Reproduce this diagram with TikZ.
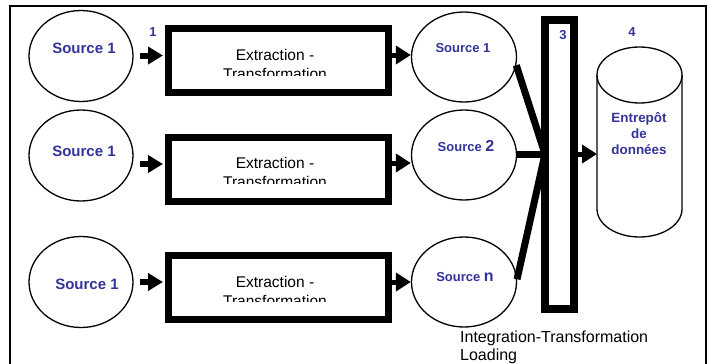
\documentclass[tikz,border=0pt]{standalone}
\usepackage{fontspec}
\setmainfont{Liberation Sans}
\usetikzlibrary{arrows.meta,shapes.geometric}
\definecolor{tblue}{RGB}{51,51,153}
\begin{document}
\begin{tikzpicture}[x=1pt,y=-1pt,
  src/.style={ellipse,draw,line width=1.3pt,minimum width=104pt,minimum height=91pt,inner sep=0pt},
  etbox/.style={rectangle,draw,line width=7pt,minimum width=220pt,minimum height=64pt,inner sep=0pt},
  lbl/.style={text=tblue,font=\bfseries\fontsize{15}{18}\selectfont,inner sep=0pt},
  rlbl/.style={text=tblue,font=\bfseries\fontsize{13}{16}\selectfont,inner sep=0pt},
  numlbl/.style={text=tblue,font=\bfseries\fontsize{13}{16}\selectfont,inner sep=0pt},
  ettext/.style={font=\fontsize{15.5}{19}\selectfont,align=center,inner sep=0pt,anchor=north},
  fat/.style={line width=6pt,-{Triangle[length=15pt,width=17pt]}},
  thinfat/.style={line width=5pt,-{Triangle[length=15pt,width=18pt]}},
  link/.style={line width=7pt},
]
\useasboundingbox (0,0) rectangle (712,364);
% outer frame
\draw[line width=1.5pt] (10,370) -- (10,6) -- (706,6) -- (706,370);

% left sources
\node[src] (L1) at (81,56) {};
\node[src] (L2) at (81,155.5) {};
\node[src] (L3) at (81,282) {};
\node[lbl] at (84,48) {Source 1};
\node[lbl] at (84,151) {Source 1};
\node[lbl] at (87,284) {Source 1};

% extraction boxes
\node[etbox] (E1) at (278.5,60.5) {};
\node[etbox] (E2) at (278.5,169) {};
\node[etbox] (E3) at (278.5,287) {};
\begin{scope}
\clip (172,30) rectangle (385,75);
\node[ettext] at (275,49) {Extraction -\\Transformation};
\end{scope}
\begin{scope}
\clip (172,140) rectangle (385,183);
\node[ettext] at (275,157) {Extraction -\\Transformation};
\end{scope}
\begin{scope}
\clip (172,258) rectangle (385,301);
\node[ettext] at (275,276) {Extraction -\\Transformation};
\end{scope}
\node[numlbl] at (153,32) {1};

% arrows left -> boxes
\coordinate (P1) at ([yshift=5pt]E1.west);
\coordinate (P2) at ([yshift=5pt]E2.west);
\coordinate (P3) at ([yshift=5pt]E3.west);
\draw[fat] ([xshift=6pt]L1.east |- P1) -- ([xshift=-2pt]P1);
\draw[fat] ([xshift=6pt]L2.east |- P2) -- ([xshift=-2pt]P2);
\draw[fat] ([xshift=6pt]L3.east |- P3) -- ([xshift=-2pt]P3);

% right sources
\node[src,minimum width=105pt,minimum height=90pt] (R1) at (464,57) {};
\node[src,minimum width=105pt,minimum height=90pt] (R2) at (464,155) {};
\node[src,minimum width=105pt,minimum height=90pt] (Rn) at (464,282) {};
\node[rlbl] at (463,48) {Source 1};
\node[rlbl] at (466,146) {Source {\fontsize{16}{18}\selectfont 2}};
\node[rlbl] at (465,277) {Source {\fontsize{16}{18}\selectfont n}};

% arrows boxes -> right sources
\coordinate (Q1) at ([yshift=5.5pt]E1.east);
\coordinate (Q2) at ([yshift=6pt]E2.east);
\coordinate (Q3) at ([yshift=5pt]E3.east);
\draw[thinfat] (Q1) -- (R1.west |- Q1);
\draw[thinfat] (Q2) -- (R2.west |- Q2);
\draw[thinfat] (Q3) -- (Rn.west |- Q3);

% integration bar
\node[rectangle,draw,line width=8pt,minimum width=29pt,minimum height=289pt,inner sep=0pt] (I) at (559.5,164.5) {};
\node[numlbl] at (563,35) {3};
\coordinate (J) at (545,154);
\draw[link] (R1.-9) -- (J);
\draw[link] (R2.east |- J) -- (J);
\draw[link] (Rn.3) -- (J);

% warehouse cylinder
\draw[line width=1.3pt] (597,75) -- (597,209) arc[start angle=180,end angle=0,x radius=42.5,y radius=28] -- (682,75);
\draw[line width=1.3pt] (639.5,75) ellipse [x radius=42.5,y radius=28];
\coordinate (W) at (597,154);
\draw[thinfat] (I.east |- W) -- (W);
\node[numlbl] at (632,32) {4};
\node[rlbl,align=center,font=\bfseries\fontsize{13.4}{16}\selectfont] at (639,134) {Entrepôt\\de\\données};

% bottom label
\node[font=\fontsize{16}{18}\selectfont,align=left,anchor=north west,inner sep=0pt] (T) at (460,331) {Integration-Transformation\\Loading};
\end{tikzpicture}
\end{document}
